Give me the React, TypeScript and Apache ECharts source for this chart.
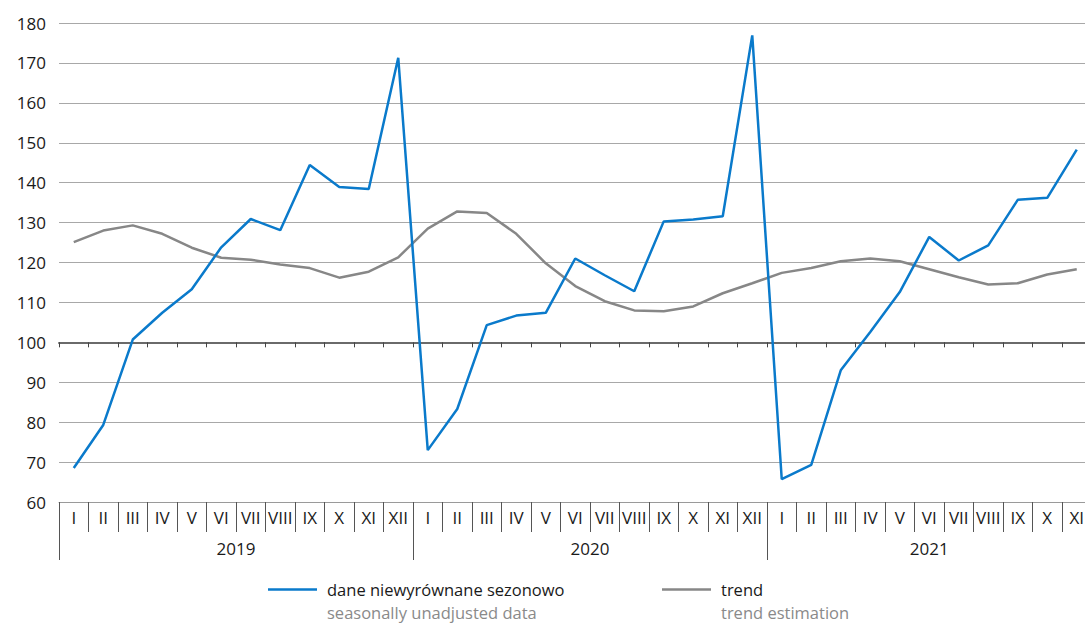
import React, { useEffect, useRef } from "react";
import * as echarts from "echarts";

const months = ["I", "II", "III", "IV", "V", "VI", "VII", "VIII", "IX", "X", "XI", "XII"];
const years = ["2019", "2020", "2021"];
const monthsPerYear = [12, 12, 11];
const categories: string[] = [];
const yearStarts: number[] = [];
monthsPerYear.forEach((n) => {
  yearStarts.push(categories.length);
  for (let i = 0; i < n; i++) categories.push(months[i]);
});

const unadjusted = [
  68.5, 79.3, 100.7, 107.4, 113.3, 123.8, 130.9, 128.1, 144.4, 138.9, 138.4, 171.3,
  73.0, 83.3, 104.3, 106.7, 107.4, 121.0, 116.8, 112.8, 130.3, 130.8, 131.6, 176.9,
  65.7, 69.3, 93.0, 102.6, 112.6, 126.4, 120.5, 124.3, 135.7, 136.2, 148.3,
];
const trend = [
  125.1, 128.0, 129.3, 127.2, 123.7, 121.2, 120.7, 119.5, 118.6, 116.2, 117.7, 121.3,
  128.5, 132.8, 132.4, 127.2, 119.8, 114.1, 110.3, 108.0, 107.8, 109.0, 112.3, 114.8,
  117.4, 118.6, 120.3, 121.0, 120.3, 118.3, 116.3, 114.5, 114.8, 117.0, 118.3,
];

const yMin = 60;
const yMax = 180;
const yInterval = 10;
const refLine = 100;

const nameUnadj = "dane niewyrównane sezonowo";
const nameUnadjEn = "seasonally unadjusted data";
const nameTrend = "trend";
const nameTrendEn = "trend estimation";

const FONT = "'Open Sans', 'Noto Sans', sans-serif";

export default function App() {
  const ref = useRef<HTMLDivElement>(null);
  useEffect(() => {
    if (!ref.current) return;
    const chart = echarts.init(ref.current, undefined, { renderer: "svg" });
    const gridTop = 23;
    const gridHeight = 479;
    const pxPerUnit = gridHeight / (yMax - yMin);
    const yearCenters = yearStarts.map((s, i) => s + monthsPerYear[i] / 2);
    const yearTickIdx = new Set(yearStarts);
    const legendBase = {
      top: 581,
      padding: 0,
      itemWidth: 49,
      itemHeight: 14,
      icon: "path://M0,6 L49,6 L49,8.5 L0,8.5 Z",
      textStyle: { color: "#1a1a1a", fontSize: 16.5, fontFamily: FONT, padding: [0, 0, 0, 5] },
      selectedMode: false,
    };
    chart.setOption({
      animation: false,
      textStyle: { fontFamily: FONT },
      grid: {
        left: 59,
        top: gridTop,
        width: 1032.5,
        height: gridHeight,
        containLabel: false,
        outerBoundsMode: "none",
      },
      xAxis: [
        {
          type: "category",
          position: "bottom",
          data: categories,
          boundaryGap: true,
          axisLine: { show: true, lineStyle: { color: "#9a9a9a", width: 1 } },
          axisTick: { show: true, interval: 0, length: 30, lineStyle: { color: "#555", width: 1 } },
          axisLabel: { interval: 0, color: "#1a1a1a", fontSize: 17, margin: 7, fontFamily: FONT },
          splitLine: { show: false },
        },
        {
          type: "category",
          position: "bottom",
          data: categories,
          boundaryGap: true,
          offset: -(refLine - yMin) * pxPerUnit,
          axisLine: { show: true, lineStyle: { color: "#6a6a6a", width: 2 } },
          axisTick: { show: true, interval: 0, length: 5, lineStyle: { color: "#444", width: 1 } },
          axisLabel: { show: false },
          splitLine: { show: false },
        },
        {
          type: "category",
          position: "bottom",
          data: categories,
          boundaryGap: true,
          axisLine: { show: false },
          axisTick: {
            show: true,
            interval: (i: number) => yearTickIdx.has(i),
            length: 58,
            lineStyle: { color: "#555", width: 1 },
          },
          axisLabel: { show: false },
          splitLine: { show: false },
        },
        {
          type: "value",
          position: "bottom",
          min: 0,
          max: categories.length,
          interval: 0.5,
          offset: 30,
          axisLine: { show: false },
          axisTick: { show: false },
          splitLine: { show: false },
          axisLabel: {
            color: "#1a1a1a",
            fontSize: 17,
            margin: 8,
            fontFamily: FONT,
            showMinLabel: true,
            showMaxLabel: true,
            formatter: (v: number) => {
              const k = yearCenters.findIndex((c) => Math.abs(c - v) < 1e-6);
              return k >= 0 ? years[k] : "";
            },
          },
        },
      ],
      yAxis: {
        type: "value",
        min: yMin,
        max: yMax,
        interval: yInterval,
        axisLine: { show: false },
        axisTick: { show: false },
        axisLabel: { color: "#1a1a1a", fontSize: 17, margin: 13, fontFamily: FONT },
        splitLine: { show: true, lineStyle: { color: "#a8a8a8", width: 1 } },
      },
      legend: [
        { ...legendBase, data: [nameUnadj], left: 268 },
        { ...legendBase, data: [nameTrend], left: 662 },
      ],
      graphic: [
        {
          type: "text",
          left: 327,
          top: 604,
          style: { text: nameUnadjEn, fill: "#8a8a8a", fontSize: 16.5, fontFamily: FONT },
        },
        {
          type: "text",
          left: 721,
          top: 604,
          style: { text: nameTrendEn, fill: "#8a8a8a", fontSize: 16.5, fontFamily: FONT },
        },
      ],
      series: [
        {
          name: nameTrend,
          type: "line",
          data: trend,
          symbol: "none",
          xAxisIndex: 0,
          lineStyle: { color: "#878787", width: 2.5 },
          itemStyle: { color: "#878787" },
          z: 3,
        },
        {
          name: nameUnadj,
          type: "line",
          data: unadjusted,
          symbol: "none",
          xAxisIndex: 0,
          lineStyle: { color: "#0a7acb", width: 2.5 },
          itemStyle: { color: "#0a7acb" },
          z: 4,
        },
      ],
    });
    return () => chart.dispose();
  }, []);
  return <div ref={ref} style={{ width: 1085, height: 625, position: "absolute", left: 0, top: 0 }} />;
}
